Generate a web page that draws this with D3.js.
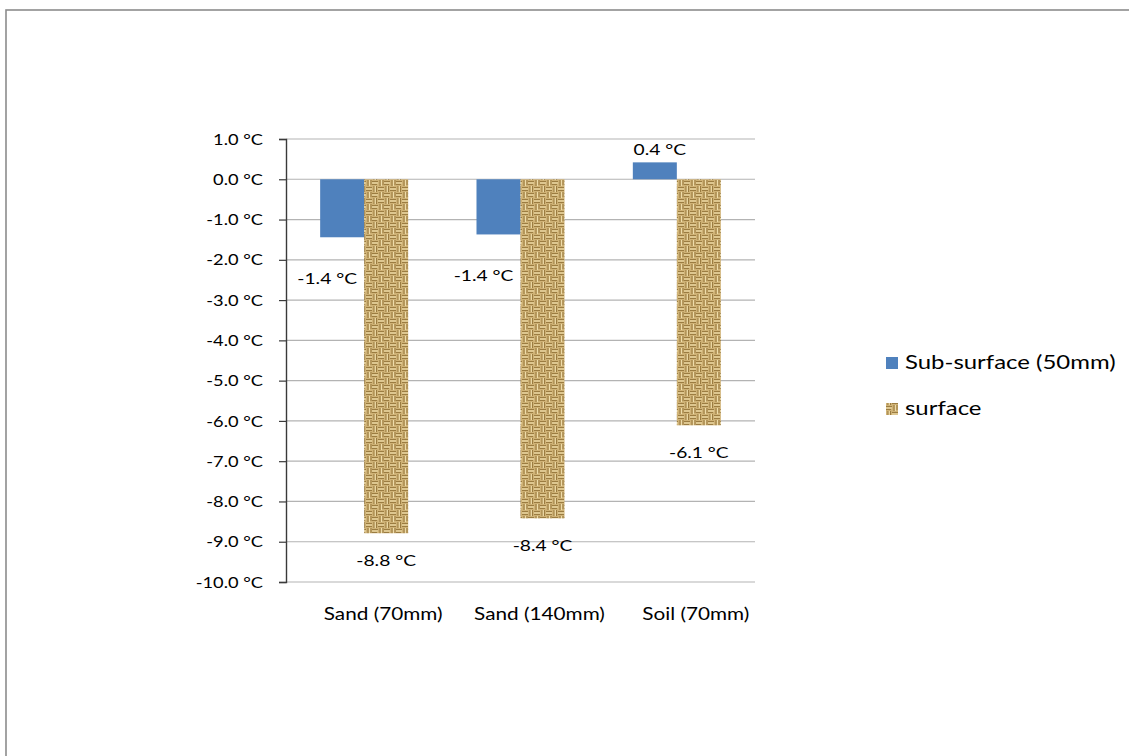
<!DOCTYPE html>
<html><head><meta charset="utf-8">
<script src="https://cdn.jsdelivr.net/npm/d3@7/dist/d3.min.js"></script>
<style>body{margin:0;background:#fff}svg{display:block}text{font-family:Lato,"Liberation Sans",sans-serif;fill:#000}</style>
</head><body><svg id="c" width="1129" height="756"></svg>
<script>
const categories = ["Sand (70mm)", "Sand (140mm)", "Soil (70mm)"];
const seriesNames = ["Sub-surface (50mm)", "surface"];
const subSurface = [-1.44, -1.37, 0.42];
const surface = [-8.79, -8.42, -6.11];
const subSurfaceLabels = ["-1.4 °C", "-1.4 °C", "0.4 °C"];
const surfaceLabels = ["-8.8 °C", "-8.4 °C", "-6.1 °C"];
const yTicks = [1, 0, -1, -2, -3, -4, -5, -6, -7, -8, -9, -10];

const svg = d3.select("#c");
svg.append("rect").attr("x", 6).attr("y", 10).attr("width", 1140).attr("height", 770)
  .attr("fill", "#fff").attr("stroke", "#8c8c8c").attr("stroke-width", 1.6);

// stretch text horizontally (reference text is wide)
function stretch(sel, k) {
  sel.each(function () {
    const len = this.getComputedTextLength();
    d3.select(this).attr("textLength", len * k).attr("lengthAdjust", "spacingAndGlyphs");
  });
}

// woven pattern
const defs = svg.append("defs");
const pat = defs.append("pattern").attr("id", "burlap").attr("patternUnits", "userSpaceOnUse")
  .attr("width", 12).attr("height", 12);
pat.append("rect").attr("width", 12).attr("height", 12).attr("fill", "#cfb276");
pat.append("path").attr("d", "M0,1.5H6M8,0V6M6,7.5H12M2,6V12M0,4.5H5M11,0V5M6,10.5H12M4.5,6V12")
  .attr("stroke", "#8f6e33").attr("stroke-width", 1.1).attr("fill", "none").attr("opacity", 0.8);
pat.append("path").attr("d", "M0,3H6M9.5,0V6M6,9H12M3.3,6V12")
  .attr("stroke", "#eedcaa").attr("stroke-width", 1.1).attr("fill", "none");

const x = d3.scaleBand().domain(categories).range([286, 755]).paddingInner(0.437).paddingOuter(0.2185);
const xs = d3.scaleBand().domain(seriesNames).range([0, x.bandwidth()]);
const y = d3.scaleLinear().domain([-10, 1]).range([582, 139]);

// gridlines
svg.append("g").selectAll("line").data(yTicks).join("line")
  .attr("x1", 286).attr("x2", 755).attr("y1", d => y(d)).attr("y2", d => y(d))
  .attr("stroke", "#b3b3b3").attr("stroke-width", 1.2);

// y axis
const yAxis = d3.axisLeft(y).tickValues(yTicks).tickSize(7).tickPadding(16)
  .tickFormat(d => d.toFixed(1) + " °C");
const ga = svg.append("g").attr("transform", "translate(286,0)").call(yAxis);
ga.select(".domain").attr("stroke", "#3a3a3a").attr("stroke-width", 1.4);
ga.selectAll(".tick line").attr("stroke", "#3a3a3a").attr("stroke-width", 1.2);
ga.selectAll(".tick text").style("font-size", "16px").style("font-family", "Lato,sans-serif").attr("fill", "#000");
stretch(ga.selectAll(".tick text"), 1.14);

const seriesData = [subSurface, surface];
const fills = ["#4f81bd", "url(#burlap)"];
seriesData.forEach((vals, si) => {
  svg.append("g").selectAll("rect").data(vals).join("rect")
    .attr("x", (d, i) => x(categories[i]) + xs(seriesNames[si]))
    .attr("width", xs.bandwidth())
    .attr("y", d => y(Math.max(0, d)))
    .attr("height", d => Math.abs(y(d) - y(0)))
    .attr("fill", fills[si]);
});

// data labels
const dl1 = svg.append("g").selectAll("text").data(subSurface).join("text")
  .attr("x", (d, i) => x(categories[i]) + xs(seriesNames[0]) + xs.bandwidth() / 2 + (d < 0 ? -15 : 5))
  .attr("y", d => d < 0 ? y(d) + 47 : y(d) - 7)
  .attr("text-anchor", "middle").style("font-size", "16px")
  .text((d, i) => subSurfaceLabels[i]);
stretch(dl1, 1.2);
const dl2 = svg.append("g").selectAll("text").data(surface).join("text")
  .attr("x", (d, i) => x(categories[i]) + xs(seriesNames[1]) + xs.bandwidth() / 2)
  .attr("y", d => y(d) + 33)
  .attr("text-anchor", "middle").style("font-size", "16px")
  .text((d, i) => surfaceLabels[i]);
stretch(dl2, 1.2);

// category labels
const cl = svg.append("g").selectAll("text").data(categories).join("text")
  .attr("x", d => x(d) + x.bandwidth() / 2 + 19)
  .attr("y", 620).attr("text-anchor", "middle").style("font-size", "17px")
  .text(d => d);
stretch(cl, 1.22);

// legend
const lg = svg.append("g").attr("transform", "translate(886,357)");
seriesNames.forEach((s, i) => {
  lg.append("rect").attr("x", 0).attr("y", i * 46).attr("width", 12).attr("height", 12).attr("fill", fills[i]);
  const t = lg.append("text").attr("x", 19).attr("y", i * 46 + 12).style("font-size", "19px").text(s);
  stretch(t, 1.26);
});
</script></body></html>
